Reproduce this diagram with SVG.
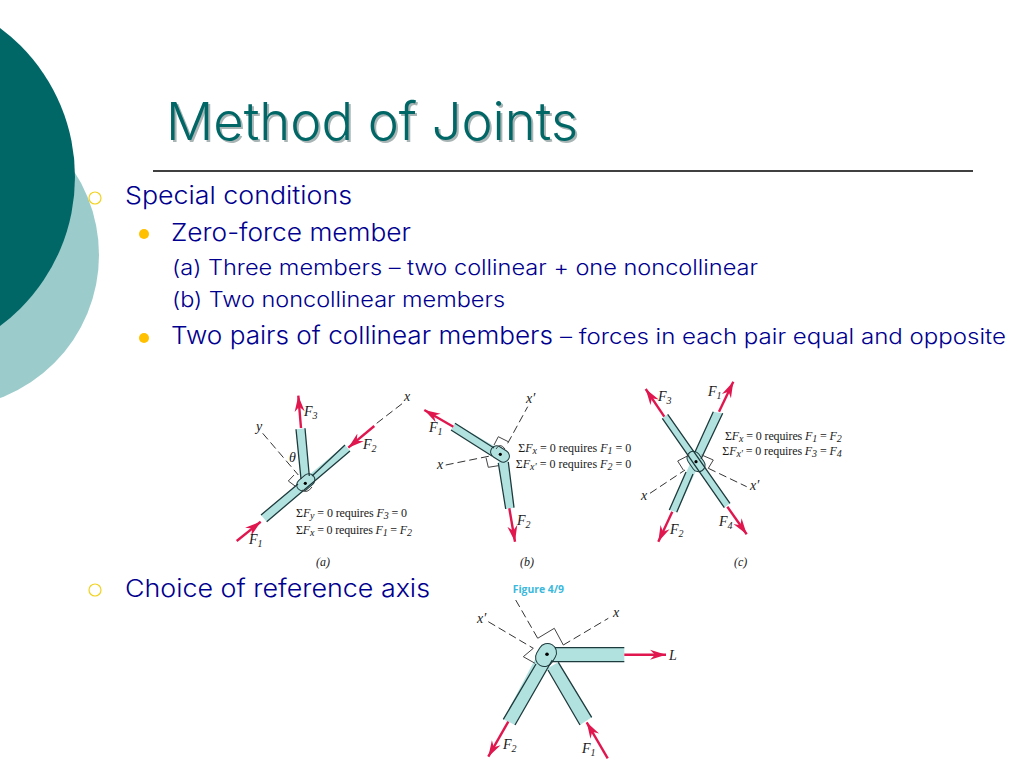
<svg xmlns="http://www.w3.org/2000/svg" width="1024" height="768" viewBox="0 0 1024 768">
<style>
.t{font-family:"Inter","Liberation Sans",sans-serif;fill:#00008f;font-weight:300}
.b25{font-size:24.5px}.b21{font-size:21px}
.title{font-family:"Inter","Liberation Sans",sans-serif;font-size:52px;font-weight:300}
.m{font-family:"Liberation Serif",serif;font-size:12px;fill:#1a1a1a}
.l{font-family:"Liberation Serif",serif;font-size:14px;font-style:italic;fill:#1a1a1a}
.s{font-size:10px;font-style:italic}
.i{font-style:italic}
.mem{fill:#b2e2e0;stroke:none}
.edge{fill:none;stroke:#1d3a3c;stroke-width:1.3}
.cap{fill:#b2e2e0;stroke:#1d3a3c;stroke-width:1}
.dash{fill:none;stroke:#333;stroke-width:1;stroke-dasharray:8 4}
.ra{fill:none;stroke:#444;stroke-width:1}
.arr{fill:none;stroke:#e0174f;stroke-width:2.4;marker-end:url(#h)}
.ring{fill:none;stroke:#f2d21f;stroke-width:1.2}
.dot{fill:#ffc000}
</style>
<defs>
<marker id="h" markerUnits="userSpaceOnUse" markerWidth="18" markerHeight="14" refX="16" refY="6" orient="auto"><path d="M0 1 L16 6 L0 11 L5 6Z" fill="#e0174f"/></marker>
</defs>
<rect width="1024" height="768" fill="#fff"/>
<g id="background">
<circle cx="-53.8" cy="255" r="152.8" fill="#9ccbcb"/>
<circle cx="-110.5" cy="177" r="185.5" fill="#006666"/>
</g>
<g id="title">
<text class="title" x="168" y="142" fill="#a9b4b4" textLength="412" lengthAdjust="spacingAndGlyphs">Method of Joints</text>
<text class="title" x="166" y="140" fill="#006666" textLength="412" lengthAdjust="spacingAndGlyphs">Method of Joints</text>
<line x1="153" y1="171" x2="973" y2="171" stroke="#000" stroke-width="1.5"/>
</g>
<g id="bullets">
<circle class="ring" cx="95" cy="198" r="6"/>
<text class="t b25" x="125" y="204" textLength="227" lengthAdjust="spacingAndGlyphs">Special conditions</text>
<circle class="dot" cx="144" cy="234" r="5"/>
<text class="t b25" x="171" y="241" textLength="240" lengthAdjust="spacingAndGlyphs">Zero-force member</text>
<text class="t b21" x="172" y="275" textLength="586" lengthAdjust="spacingAndGlyphs">(a) Three members – two collinear + one noncollinear</text>
<text class="t b21" x="172" y="307" textLength="333" lengthAdjust="spacingAndGlyphs">(b) Two noncollinear members</text>
<circle class="dot" cx="144" cy="338" r="5"/>
<text class="t b25" x="171" y="344" textLength="382" lengthAdjust="spacingAndGlyphs">Two pairs of collinear members</text>
<text class="t b21" x="560" y="344" textLength="446" lengthAdjust="spacingAndGlyphs">– forces in each pair equal and opposite</text>
<circle class="ring" cx="95" cy="590" r="6"/>
<text class="t b25" x="125" y="597" textLength="305" lengthAdjust="spacingAndGlyphs">Choice of reference axis</text>
</g>
<g id="figure-a">
<polygon class="mem" points="296,429.3 305,428.3 309.3,478.3 301,481.7"/>
<polygon class="mem" points="261,515 266.7,521.7 350,451 345,445"/>
<rect class="cap" x="296" y="477" width="20" height="12" rx="6" transform="rotate(-40 305 483)"/>
<path class="edge" d="M296 429.3L301 479M305 428.3L309.3 476M261 515L298 484M266.7 521.7L350 451M312 476L345 445"/>
<path class="ra" d="M294 475L288.3 481L296 486.7M302 490Q307 494 312 487"/>
<path class="dash" d="M376.7 423.3L403 403M262.7 433.3L298.3 475"/>
<circle cx="305.3" cy="483.3" r="1.6" fill="#000"/>
<path class="arr" d="M301 428L298.3 395.7"/>
<path class="arr" d="M374.3 426L348.3 447.7"/>
<path class="arr" d="M236.7 541L260.7 521.7"/>
<text class="l" x="304" y="416">F<tspan class="s" dy="3">3</tspan></text>
<text class="l" x="363" y="449">F<tspan class="s" dy="3">2</tspan></text>
<text class="l" x="249" y="544">F<tspan class="s" dy="3">1</tspan></text>
<text class="l" x="404" y="401">x</text><text class="l" x="256" y="431">y</text><text class="l" x="289" y="462">θ</text>
<text class="m" x="296" y="517" textLength="111">Σ<tspan class="i">F</tspan><tspan class="s" dy="2">y</tspan><tspan dy="-2"> = 0 requires </tspan><tspan class="i">F</tspan><tspan class="s" dy="2">3</tspan><tspan dy="-2"> = 0</tspan></text>
<text class="m" x="296" y="534" textLength="116">Σ<tspan class="i">F</tspan><tspan class="s" dy="2">x</tspan><tspan dy="-2"> = 0 requires </tspan><tspan class="i">F</tspan><tspan class="s" dy="2">1</tspan><tspan dy="-2"> = </tspan><tspan class="i">F</tspan><tspan class="s" dy="2">2</tspan></text>
<text class="m i" x="316" y="566">(a)</text>
</g>
<g id="figure-b">
<polygon class="mem" points="498.3,461.7 508.3,460 514,507.7 505.7,509"/>
<polygon class="mem" points="455,423.3 451,430 503.3,462.3 509.3,455"/>
<rect class="cap" x="490" y="448" width="20" height="12" rx="6" transform="rotate(32 500 454)" />
<path class="edge" d="M455 423.3L494 448M451 430L492 456M498.3 463L505.7 509M508.3 462L514 507.7"/>
<path class="ra" d="M494 445L498.3 436.7L508.3 441.7M486 457.7L488.3 467.3L498.3 465.7M496 449Q500 442 505 449"/>
<path class="dash" d="M507.7 443.3L527.7 406.7M445.7 465L490 456"/>
<circle cx="500.3" cy="454.3" r="1.6" fill="#000"/>
<path class="arr" d="M453.3 426.7L424.3 410"/>
<path class="arr" d="M509.3 508.3L515 541.7"/>
<text class="l" x="429" y="432">F<tspan class="s" dy="3">1</tspan></text>
<text class="l" x="517" y="525">F<tspan class="s" dy="3">2</tspan></text>
<text class="l" x="526" y="403">x′</text><text class="l" x="437" y="469">x</text>
<text class="m" x="518.3" y="452" textLength="113">Σ<tspan class="i">F</tspan><tspan class="s" dy="2">x</tspan><tspan dy="-2"> = 0 requires </tspan><tspan class="i">F</tspan><tspan class="s" dy="2">1</tspan><tspan dy="-2"> = 0</tspan></text>
<text class="m" x="515.7" y="468" textLength="115.5">Σ<tspan class="i">F</tspan><tspan class="s" dy="2">x′</tspan><tspan dy="-2"> = 0 requires </tspan><tspan class="i">F</tspan><tspan class="s" dy="2">2</tspan><tspan dy="-2"> = 0</tspan></text>
<text class="m i" x="520" y="566">(b)</text>
</g>
<g id="figure-c">
<polygon class="mem" points="713.3,411.7 722.7,413.3 676.7,512.3 669.3,510"/>
<polygon class="mem" points="667.7,414.3 662.3,418.3 724.3,507.7 730,503.3"/>
<rect class="cap" x="685" y="455" width="22" height="13" rx="6.5" transform="rotate(55 696 461.5)"/>
<path class="edge" d="M667.7 414.3L730 503.3M662.3 418.3L724.3 507.7M713.3 411.7L695 452M722.7 413.3L701 459M686 472L669.3 510M693 474L676.7 512.3"/>
<path class="ra" d="M683.3 470L677.7 461L689.3 455M701.7 455L713.3 460L708.3 468.3"/>
<path class="dash" d="M650 493.3L685 470M708.3 468.3L746.7 486.7"/>
<circle cx="696" cy="461.7" r="1.6" fill="#000"/>
<path class="arr" d="M664.3 416.7L645.7 389"/>
<path class="arr" d="M719 411.7L733.3 381.7"/>
<path class="arr" d="M672.3 511.7L658.3 541.7"/>
<path class="arr" d="M727.3 506.7L746.7 534.3"/>
<text class="l" x="658" y="401">F<tspan class="s" dy="3">3</tspan></text>
<text class="l" x="708" y="396">F<tspan class="s" dy="3">1</tspan></text>
<text class="l" x="670" y="534">F<tspan class="s" dy="3">2</tspan></text>
<text class="l" x="719" y="526">F<tspan class="s" dy="3">4</tspan></text>
<text class="l" x="641" y="500">x</text><text class="l" x="750" y="490">x′</text>
<text class="m" x="725" y="440" textLength="116.7">Σ<tspan class="i">F</tspan><tspan class="s" dy="2">x</tspan><tspan dy="-2"> = 0 requires </tspan><tspan class="i">F</tspan><tspan class="s" dy="2">1</tspan><tspan dy="-2"> = </tspan><tspan class="i">F</tspan><tspan class="s" dy="2">2</tspan></text>
<text class="m" x="722.3" y="455" textLength="119.4">Σ<tspan class="i">F</tspan><tspan class="s" dy="2">x′</tspan><tspan dy="-2"> = 0 requires </tspan><tspan class="i">F</tspan><tspan class="s" dy="2">3</tspan><tspan dy="-2"> = </tspan><tspan class="i">F</tspan><tspan class="s" dy="2">4</tspan></text>
<text class="m i" x="734" y="566">(c)</text>
</g>
<g id="figure-d">
<text x="512.7" y="592.5" font-family="Open Sans, Liberation Sans, sans-serif" font-size="10.5" font-weight="700" fill="#3cb8dc" textLength="51.3" lengthAdjust="spacingAndGlyphs">Figure 4/9</text>
<polygon class="mem" points="555,647.7 624.3,647.7 624.3,661.7 551,661.7"/>
<polygon class="mem" points="580,725 591.7,717.3 558.3,662.3 547.7,668.3"/>
<polygon class="mem" points="503.3,719.3 515,725 552.3,660 540,650"/>
<rect class="cap" x="537" y="643" width="18" height="24" rx="9" transform="rotate(30 546 655)"/>
<path class="edge" d="M555 647.7H624.3M551 661.7H624.3M580 725L548 670M591.7 717.3L558.3 662.3M503.3 719.3L536 664M515 725L552.3 660"/>
<path class="ra" d="M537.7 638.3L554.3 628.3L563.3 645M533.3 648.3L523.3 656.7L535 663.3"/>
<path class="dash" d="M563.3 645L608.3 618.3M488.3 621.7L533.3 648.3M515.7 600L537.7 638.3"/>
<circle cx="547" cy="654.3" r="1.8" fill="#000"/>
<path class="arr" d="M624.3 654.7L666 654.7"/>
<path class="arr" d="M508.3 721.7L488.3 756.7"/>
<path class="arr" d="M607.7 758.3L586.7 722.3"/>
<text class="l" x="503" y="749">F<tspan class="s" dy="3">2</tspan></text>
<text class="l" x="582" y="753">F<tspan class="s" dy="3">1</tspan></text>
<text class="l" x="669" y="660">L</text>
<text class="l" x="613" y="617">x</text><text class="l" x="477" y="623">x′</text>
</g>
</svg>
